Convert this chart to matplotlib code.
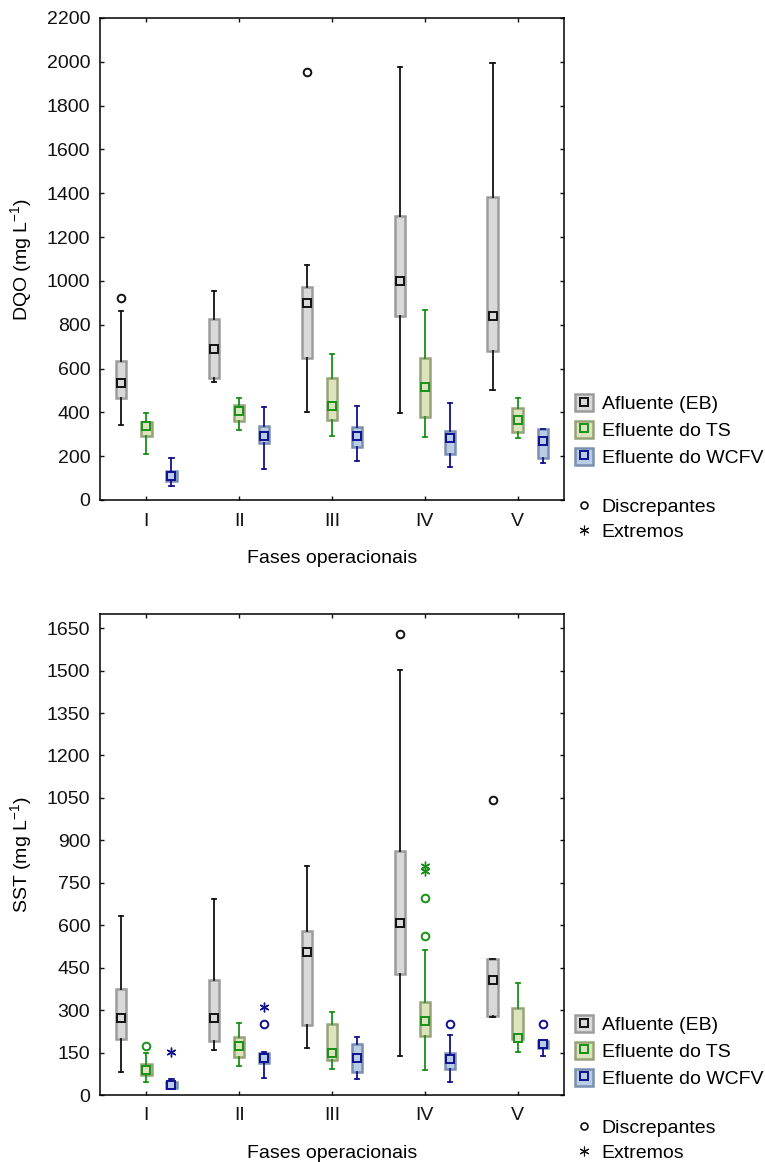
import matplotlib
matplotlib.use('Agg')
import matplotlib.pyplot as plt
from matplotlib.patches import Patch
from matplotlib.lines import Line2D
import numpy as np

plt.rcParams['font.family'] = ['Liberation Sans', 'DejaVu Sans']
plt.rcParams['font.size'] = 14
plt.rcParams['mathtext.default'] = 'regular'

phases = ['I', 'II', 'III', 'IV', 'V']
series_names = ['Afluente (EB)', 'Efluente do TS', 'Efluente do WCFV']

# five numbers per phase: whisker low, q1, median, q3, whisker high
dqo_afluente = [(344, 464, 532, 634, 863), (537, 557, 689, 828, 952), (402, 647, 901, 971, 1071),
                (399, 841, 1000, 1298, 1976), (504, 680, 841, 1384, 1993)]
dqo_ts = [(208, 292, 336, 358, 399), (321, 361, 405, 435, 467), (294, 365, 428, 555, 668),
          (286, 379, 517, 650, 867), (281, 309, 367, 418, 467)]
dqo_wcfv = [(65, 87, 111, 131, 192), (143, 260, 292, 339, 426), (178, 242, 292, 332, 429),
            (152, 210, 285, 316, 444), (170, 192, 269, 322, 324)]

dqo_afluente_discrep = [[923], [], [1953], [], []]
dqo_ts_discrep = [[], [], [], [], []]
dqo_wcfv_discrep = [[], [], [], [], []]
dqo_afluente_extr = [[], [], [], [], []]
dqo_ts_extr = [[], [], [], [], []]
dqo_wcfv_extr = [[], [], [], [], []]

sst_afluente = [(80, 198, 272, 373, 633), (159, 190, 272, 408, 692), (165, 247, 504, 580, 810),
                (138, 427, 607, 863, 1501), (275, 278, 405, 479, 480)]
sst_ts = [(46, 69, 87, 108, 150), (104, 134, 174, 204, 254), (93, 124, 150, 252, 294),
          (90, 207, 260, 328, 511), (151, 197, 202, 306, 397)]
sst_wcfv = [(20, 25, 34, 47, 57), (61, 114, 132, 150, 153), (55, 81, 132, 179, 206),
            (47, 92, 127, 150, 213), (139, 167, 180, 191, 194)]

sst_afluente_discrep = [[], [], [], [1629], [1043]]
sst_ts_discrep = [[174], [], [], [695, 561], []]
sst_wcfv_discrep = [[], [250], [], [250], [250]]
sst_afluente_extr = [[], [], [], [], []]
sst_ts_extr = [[], [], [], [810, 790], []]
sst_wcfv_extr = [[153], [312], [], [], []]

# styles per series
offsets = [-0.27, 0.0, 0.27]
face_colors = ['#d9d9d9', '#dbe4bd', '#b9cde4']
edge_colors = ['#9c9c9c', '#98a27a', '#7990b0']
line_colors = ['#111111', '#179117', '#101090']

extreme_marker = (6, 2, 0)


def draw_panel(ax, nums_all, discrep_all, extr_all, ymax, yticks, ylabel):
    x = np.arange(1, len(phases) + 1)
    for k in range(3):
        nums = nums_all[k]
        stats = [dict(whislo=n[0], q1=n[1], med=n[2], q3=n[3], whishi=n[4], fliers=[]) for n in nums]
        pos = x + offsets[k]
        ax.bxp(stats, positions=pos, widths=0.11, capwidths=0.045, patch_artist=True,
               showfliers=False, manage_ticks=False,
               boxprops=dict(facecolor=face_colors[k], edgecolor=edge_colors[k], linewidth=1.8),
               whiskerprops=dict(color=line_colors[k], linewidth=1.3),
               capprops=dict(color=line_colors[k], linewidth=1.3),
               medianprops=dict(visible=False))
        ax.plot(pos, [n[2] for n in nums], 's', ms=5.5, mfc=face_colors[k],
                mec=line_colors[k], mew=1.4, ls='none', zorder=5)
        for i in range(len(phases)):
            if discrep_all[k][i]:
                ax.plot([pos[i]] * len(discrep_all[k][i]), discrep_all[k][i], 'o', ms=5.5,
                        mfc='none', mec=line_colors[k], mew=1.4, ls='none', zorder=5)
            if extr_all[k][i]:
                ax.plot([pos[i]] * len(extr_all[k][i]), extr_all[k][i], marker=extreme_marker,
                        ms=7, color=line_colors[k], mew=1.0, ls='none', zorder=5)

    ax.set_xlim(0.5, 5.5)
    ax.set_ylim(0, ymax)
    ax.set_yticks(yticks)
    ax.set_xticks(x, phases)
    ax.tick_params(direction='in', top=True, right=True, length=3, width=1.0, colors='#111111')
    ax.tick_params(axis='y', pad=7)
    ax.tick_params(axis='x', pad=9)
    for s in ax.spines.values():
        s.set_linewidth(1.1)
    ax.set_ylabel(ylabel, labelpad=9)
    ax.set_xlabel('Fases operacionais', labelpad=15)


def add_legends(ax, fig, top1, top2):
    box_handles = [(Patch(facecolor=face_colors[k], edgecolor=edge_colors[k], linewidth=1.8),
                    Line2D([], [], marker='s', ms=5.5, mfc=face_colors[k], mec=line_colors[k],
                           mew=1.4, ls='none'))
                   for k in range(3)]
    leg1 = ax.legend(box_handles, series_names, loc='upper left',
                     bbox_to_anchor=(575 / 765, 1 - top1 / 1162), bbox_transform=fig.transFigure,
                     frameon=False, borderpad=0, borderaxespad=0, handlelength=0.95,
                     handleheight=1.0, handletextpad=0.42, labelspacing=0.38)
    ax.add_artist(leg1)
    mark_handles = [Line2D([], [], marker='o', ms=5, mfc='none', mec='#111111', mew=1.2, ls='none'),
                    Line2D([], [], marker=extreme_marker, ms=7, color='#111111', mew=0.8, ls='none')]
    ax.legend(mark_handles, ['Discrepantes', 'Extremos'], loc='upper left',
              bbox_to_anchor=(575 / 765, 1 - top2 / 1162), bbox_transform=fig.transFigure,
              frameon=False, borderpad=0, borderaxespad=0, handlelength=0.95,
              handletextpad=0.42, labelspacing=0.38)


fig = plt.figure(figsize=(7.65, 11.62), dpi=100)
ax1 = fig.add_axes([100 / 765, 1 - 500 / 1162, 464 / 765, 482 / 1162])
ax2 = fig.add_axes([100 / 765, 1 - 1095 / 1162, 464 / 765, 481 / 1162])

draw_panel(ax1, [dqo_afluente, dqo_ts, dqo_wcfv],
           [dqo_afluente_discrep, dqo_ts_discrep, dqo_wcfv_discrep],
           [dqo_afluente_extr, dqo_ts_extr, dqo_wcfv_extr],
           2200, np.arange(0, 2201, 200), 'DQO (mg L$^{-1}$)')
draw_panel(ax2, [sst_afluente, sst_ts, sst_wcfv],
           [sst_afluente_discrep, sst_ts_discrep, sst_wcfv_discrep],
           [sst_afluente_extr, sst_ts_extr, sst_wcfv_extr],
           1700, np.arange(0, 1651, 150), 'SST (mg L$^{-1}$)')

add_legends(ax1, fig, 394, 498)
add_legends(ax2, fig, 1015, 1119)

fig.savefig('out.png', dpi=100)
